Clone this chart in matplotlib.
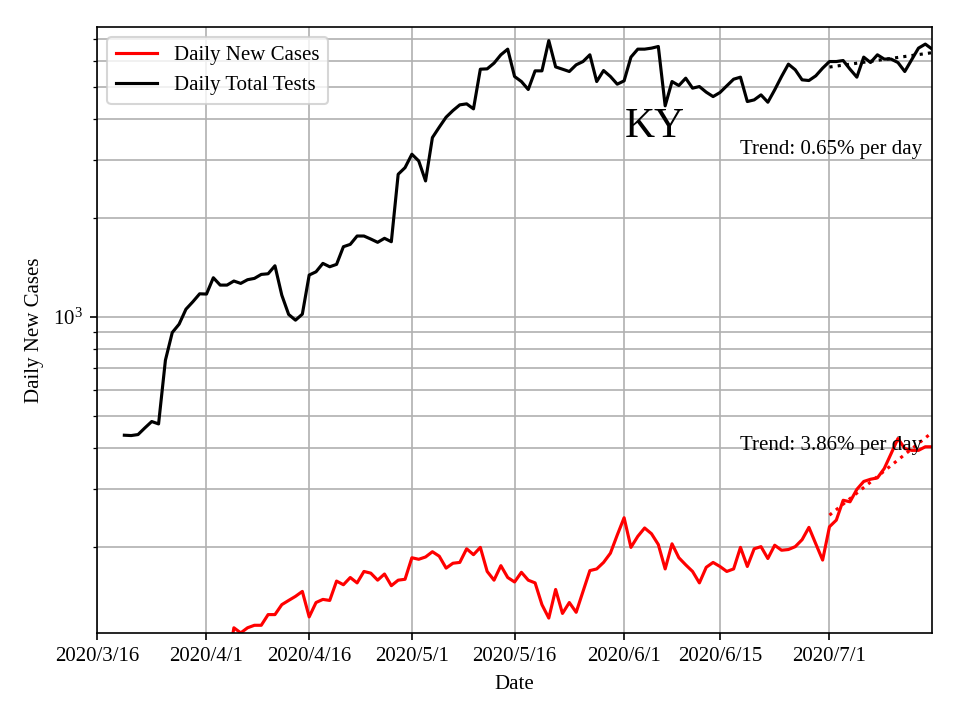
import numpy as np
import pandas as pd
import matplotlib
matplotlib.use("Agg")
import matplotlib.pyplot as plt
import matplotlib.dates as mdates

plt.rcParams['font.family'] = ['Liberation Serif', 'DejaVu Serif']
plt.rcParams['mathtext.fontset'] = 'stix'
plt.rcParams['font.size'] = 10

# daily total tests, 2020/3/20 .. 2020/7/16
tests_start = "2020-03-20"
tests = [438, 437, 440, 461, 482, 474, 740, 898, 952, 1057, 1113, 1177, 1175, 1317,
         1251, 1251, 1287, 1266, 1299, 1311, 1348, 1354, 1432, 1166, 1019, 979, 1021,
         1342, 1373, 1456, 1422, 1446, 1636, 1663, 1763, 1763, 1726, 1687, 1735, 1694,
         2715, 2843, 3123, 2980, 2591, 3508, 3773, 4046, 4238, 4410, 4441, 4288, 5659,
         5672, 5903, 6258, 6510, 5377, 5191, 4910, 5593, 5593, 6910, 5750, 5659, 5568,
         5834, 5970, 6258, 5191, 5606, 5377, 5096, 5216, 6157, 6510, 6510, 6556, 6632,
         4380, 5191, 5047, 5314, 4956, 5012, 4819, 4673, 4806, 5037, 5277, 5352, 4513,
         4566, 4729, 4492, 4898, 5377, 5862, 5635, 5253, 5228, 5402, 5700, 5970, 5970,
         6012, 5659, 5352, 6157, 5929, 6258, 6073, 6073, 5929, 5568, 6043, 6556, 6744,
         6510]

# daily new cases, 2020/4/4 .. 2020/7/16
cases_start = "2020-04-04"
cases = [85, 114, 110, 114, 116, 116, 125, 125, 134, 138, 142, 147, 123, 136, 139, 138,
         158, 154, 162, 156, 169, 167, 159, 166, 153, 159, 160, 186, 184, 187, 194, 188,
         173, 179, 180, 198, 190, 200, 169, 159, 176, 162, 157, 168, 159, 156, 134, 122,
         149, 126, 136, 127, 147, 170, 172, 180, 192, 218, 246, 200, 216, 229, 220, 204,
         172, 205, 186, 177, 169, 156, 174, 180, 175, 169, 172, 200, 175, 198, 201, 185,
         203, 196, 197, 201, 211, 230, 205, 183, 231, 242, 278, 275, 300, 317, 322, 325,
         347, 385, 428, 399, 394, 394, 404, 404]

trend_from = "2020-07-01"
tests_rate = "0.65%"
cases_rate = "3.86%"

tick_dates = ["2020-03-16", "2020-04-01", "2020-04-16", "2020-05-01", "2020-05-16",
              "2020-06-01", "2020-06-15", "2020-07-01"]
tick_labels = ["2020/3/16", "2020/4/1", "2020/4/16", "2020/5/1", "2020/5/16",
               "2020/6/1", "2020/6/15", "2020/7/1"]

tests_dates = pd.date_range(tests_start, periods=len(tests))
cases_dates = pd.date_range(cases_start, periods=len(cases))


def trend(dates, vals):
    # log-linear fit over the last stretch
    m = dates >= pd.Timestamp(trend_from)
    d = dates[m]
    x = np.arange(len(d))
    k, b = np.polyfit(x, np.log(np.array(vals)[m]), 1)
    return d, np.exp(b + k * x)


fig, ax = plt.subplots(figsize=(6.4, 4.8), dpi=150)
fig.subplots_adjust(left=0.101, right=0.971, top=0.9625, bottom=0.121)

ax.plot(cases_dates, cases, color='red', lw=1.5, label='Daily New Cases')
ax.plot(tests_dates, tests, color='black', lw=1.5, label='Daily Total Tests')

td, tv = trend(cases_dates, cases)
ax.plot(td, tv, color='red', ls=':', lw=1.5)
td, tv = trend(tests_dates, tests)
ax.plot(td, tv, color='black', ls=':', lw=1.5)

ax.set_yscale('log')
ax.set_ylim(110, 7600)
ax.set_xlim(pd.Timestamp("2020-03-16"), pd.Timestamp("2020-07-16"))
ax.set_xticks([mdates.date2num(pd.Timestamp(t)) for t in tick_dates])
ax.set_xticklabels(tick_labels)
ax.grid(True, which='both', color='#b0b0b0', lw=0.8)

ax.set_xlabel('Date')
ax.set_ylabel('Daily New Cases')
ax.legend(loc='upper left')

ax.text(0.668, 0.835, 'KY', transform=ax.transAxes, fontsize=20, ha='center', va='center')
ax.text(0.988, 0.797, 'Trend: ' + tests_rate + ' per day', transform=ax.transAxes,
        ha='right', va='center')
ax.text(0.988, 0.309, 'Trend: ' + cases_rate + ' per day', transform=ax.transAxes,
        ha='right', va='center')

fig.savefig('out.png')
